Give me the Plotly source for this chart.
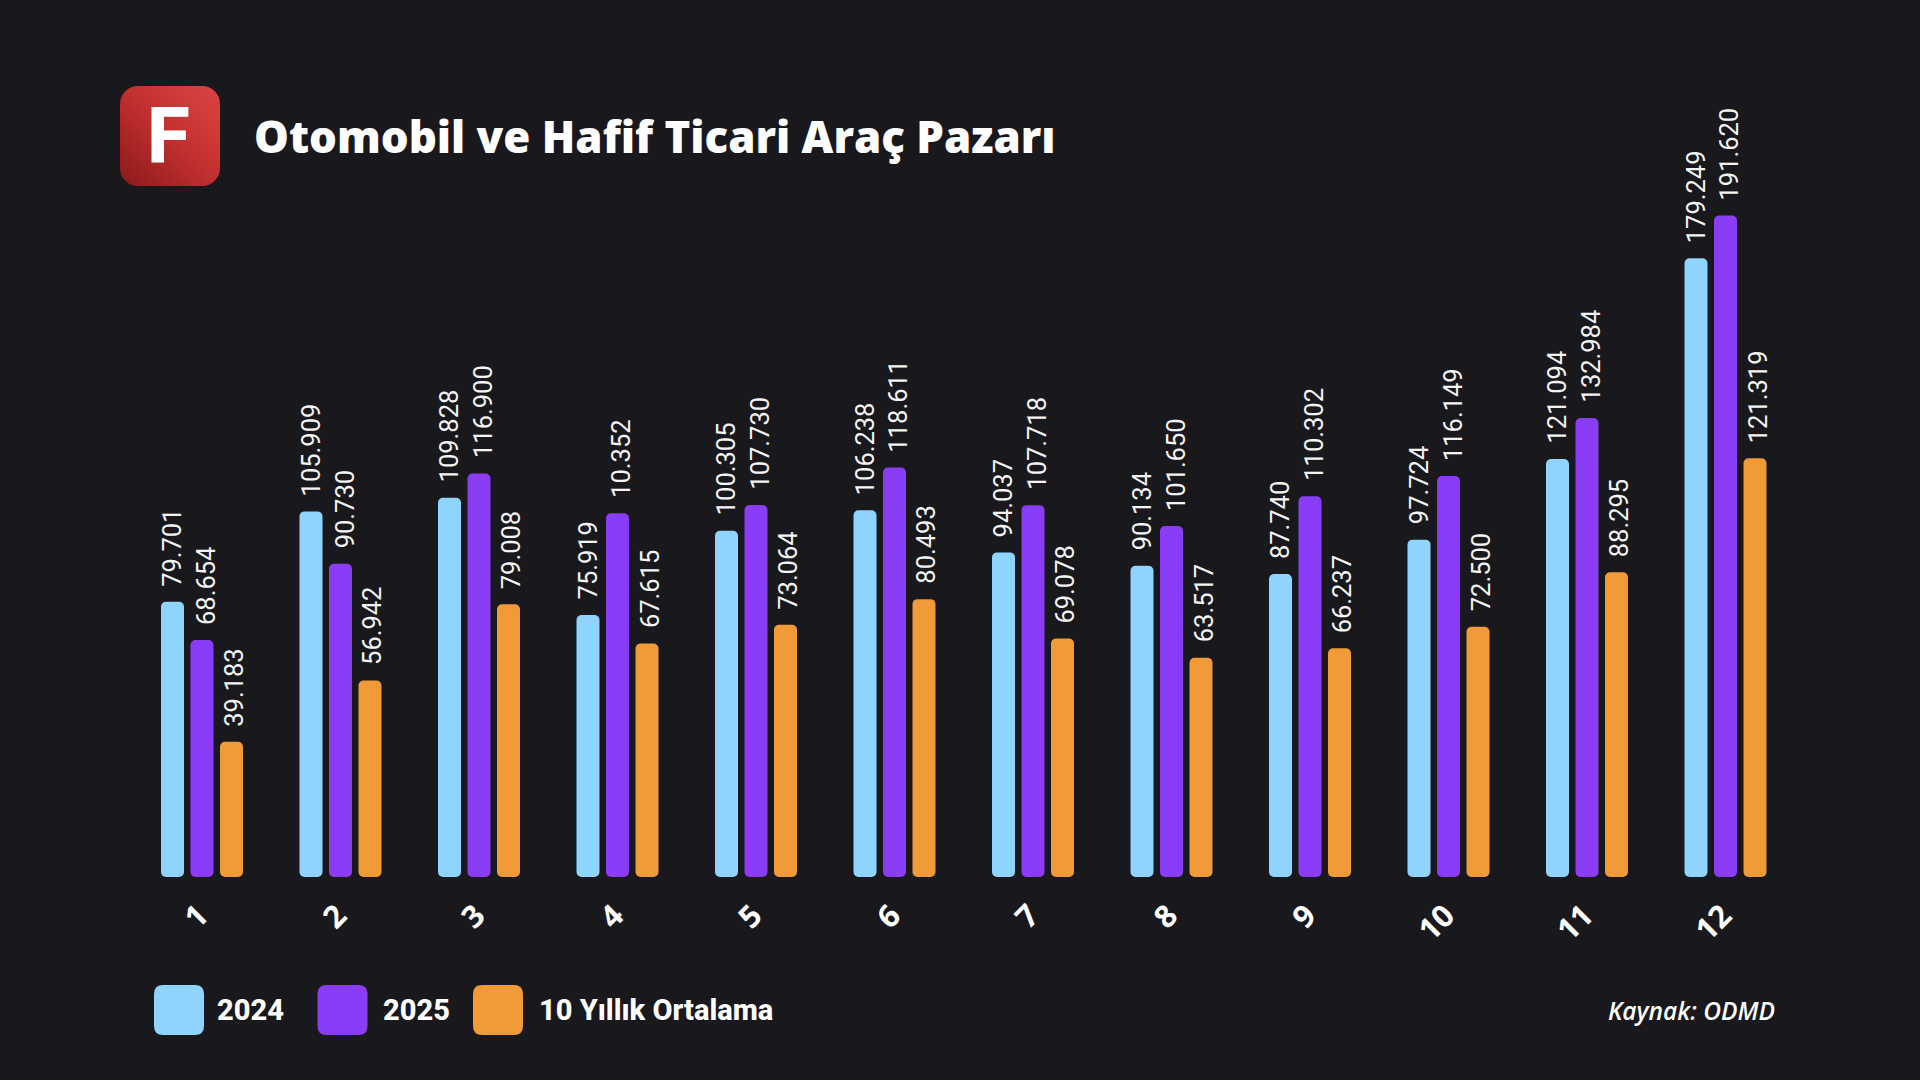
import base64
import plotly.graph_objects as go

# ---- data ----
months = ["1", "2", "3", "4", "5", "6", "7", "8", "9", "10", "11", "12"]
values_2024 = [79701, 105909, 109828, 75919, 100305, 106238, 94037, 90134, 87740, 97724, 121094, 179249]
values_2025 = [68654, 90730, 116900, 105352, 107730, 118611, 107718, 101650, 110302, 116149, 132984, 191620]
values_avg = [39183, 56942, 79008, 67615, 73064, 80493, 69078, 63517, 66237, 72500, 88295, 121319]
labels_2024 = ["79.701", "105.909", "109.828", "75.919", "100.305", "106.238", "94.037", "90.134", "87.740", "97.724", "121.094", "179.249"]
labels_2025 = ["68.654", "90.730", "116.900", "10.352", "107.730", "118.611", "107.718", "101.650", "110.302", "116.149", "132.984", "191.620"]
labels_avg = ["39.183", "56.942", "79.008", "67.615", "73.064", "80.493", "69.078", "63.517", "66.237", "72.500", "88.295", "121.319"]
series_names = ["2024", "2025", "10 Yıllık Ortalama"]
title_text = "Otomobil ve Hafif Ticari Araç Pazarı"
source_text = "Kaynak: ODMD"
logo_letter = "F"

# ---- style ----
W, H = 1920, 1080
BG = "#18181d"
COLORS = ["#8fd3ff", "#8a3cf7", "#f09a38"]
HEAD_FONT = "Open Sans"
LABEL_FONT = "Roboto"
GROUP_PX = 138.5
PLOT_L, PLOT_R = 132.75, 132.75 + 12 * GROUP_PX
PLOT_T, PLOT_B = 186.6, 877.0
BAR_W = 23 / GROUP_PX
SLOT_PX = 29.5
LABEL_NUDGE = [-0.5, 4, 2.5]


def px(x):
    return x / W


def py(y):
    return 1 - y / H


fig = go.Figure()
all_values = [values_2024, values_2025, values_avg]
all_labels = [labels_2024, labels_2025, labels_avg]

for i, (name, vals, color) in enumerate(zip(series_names, all_values, COLORS)):
    centre = (i - 1) * SLOT_PX / GROUP_PX
    fig.add_trace(go.Bar(
        x=months, y=vals, base=0,
        width=BAR_W, offset=centre - BAR_W / 2, name=name, showlegend=False,
        marker=dict(color=color, line_width=0, cornerradius=5),
    ))

annotations = []
for i, labels in enumerate(all_labels):
    for idx, (v, t) in enumerate(zip(all_values[i], labels)):
        annotations.append(dict(
            x=idx, y=v, xref="x", yref="y", text=t, showarrow=False, textangle=-90,
            xanchor="center", yanchor="bottom", xshift=(i - 1) * SLOT_PX + LABEL_NUDGE[i], yshift=13,
            font=dict(family=LABEL_FONT, size=25.5, color="#f4f4f4"),
        ))

annotations.append(dict(
    x=px(252), y=py(136), xref="paper", yref="paper", text=title_text, showarrow=False,
    xanchor="left", yanchor="middle", font=dict(family=HEAD_FONT, size=43.8, color="white", weight=800),
))
annotations.append(dict(
    x=px(168), y=py(136), xref="paper", yref="paper", text=logo_letter, showarrow=False,
    xanchor="center", yanchor="middle", font=dict(family=LABEL_FONT, size=78, color="white", weight=800),
))
annotations.append(dict(
    x=px(1777), y=py(1010), xref="paper", yref="paper", text=f"<i>{source_text}</i>", showarrow=False,
    xanchor="right", yanchor="middle", font=dict(family="Open Sans", size=24.5, color="white", weight=600),
))

swatch_x = [154, 317.5, 473]
legend_text_x = [214.5, 380.5, 536.5]
for tx, name in zip(legend_text_x, series_names):
    annotations.append(dict(
        x=px(tx), y=py(1010), xref="paper", yref="paper", text=name, showarrow=False,
        xanchor="left", yanchor="middle", font=dict(family=LABEL_FONT, size=29, color="white", weight=800),
    ))


def rounded(x0, y0, x1, y1, r):
    return (f"M{px(x0+r)},{py(y0)} L{px(x1-r)},{py(y0)} Q{px(x1)},{py(y0)} {px(x1)},{py(y0+r)} "
            f"L{px(x1)},{py(y1-r)} Q{px(x1)},{py(y1)} {px(x1-r)},{py(y1)} "
            f"L{px(x0+r)},{py(y1)} Q{px(x0)},{py(y1)} {px(x0)},{py(y1-r)} "
            f"L{px(x0)},{py(y0+r)} Q{px(x0)},{py(y0)} {px(x0+r)},{py(y0)} Z")


shapes = [dict(type="path", xref="paper", yref="paper", path=rounded(sx, 985, sx + 50, 1035, 9),
               fillcolor=c, line_width=0) for sx, c in zip(swatch_x, COLORS)]

logo_svg = """<svg xmlns="http://www.w3.org/2000/svg" width="100" height="100" viewBox="0 0 100 100">
<defs><linearGradient id="g" x1="0" y1="1" x2="1" y2="0">
<stop offset="0" stop-color="#8a1a1a"/><stop offset="0.5" stop-color="#c22f2f"/><stop offset="1" stop-color="#dc4444"/>
</linearGradient></defs><rect width="100" height="100" rx="18" ry="18" fill="url(#g)"/></svg>"""
logo_src = "data:image/svg+xml;base64," + base64.b64encode(logo_svg.encode()).decode()

fig.update_layout(
    width=W, height=H, autosize=False,
    margin=dict(l=0, r=0, t=0, b=0),
    paper_bgcolor=BG, plot_bgcolor=BG,
    barmode="overlay", showlegend=False,
    xaxis=dict(domain=[px(PLOT_L), px(PLOT_R)], type="category", range=[-0.5, 11.5], showgrid=False, zeroline=False,
               showline=False, ticks="outside", ticklen=7, tickcolor="rgba(0,0,0,0)", tickangle=-45,
               ticklabelshift=-3,
               tickfont=dict(family=HEAD_FONT, size=31, color="white", weight=700)),
    yaxis=dict(domain=[py(PLOT_B), py(PLOT_T)], range=[0, 200000], visible=False),
    annotations=annotations, shapes=shapes,
    images=[dict(source=logo_src, xref="paper", yref="paper", x=px(120), y=py(86), sizex=100 / W, sizey=100 / H,
                 xanchor="left", yanchor="top", sizing="stretch", layer="below")],
)

fig.write_html("out.html", config={"displayModeBar": False},
               post_script="document.body.style.margin='0';document.body.style.background='#18181d';document.body.style.overflow='hidden';")
